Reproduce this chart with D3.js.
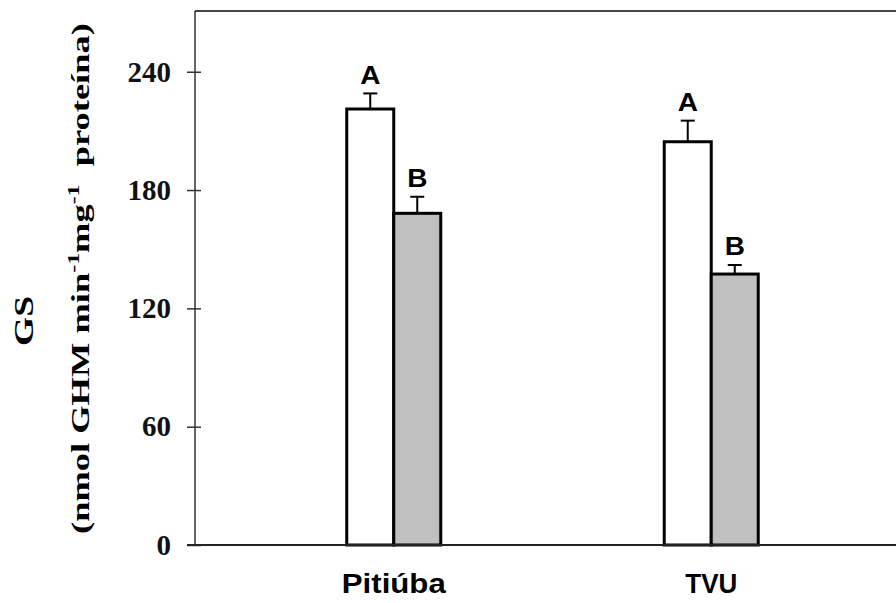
<!DOCTYPE html>
<html>
<head>
<meta charset="utf-8">
<script src="https://cdn.jsdelivr.net/npm/d3@7"></script>
<style>
  html, body { margin: 0; padding: 0; background: #fff; }
  svg { display: block; }
</style>
</head>
<body>
<div id="chart"></div>
<script>
// GS activity per cultivar: open bars vs grey bars, with SE and letters
const cultivars = ["Pitiúba", "TVU"];
const seriesKeys = ["open", "grey"];
const openMeans = [221.1, 204.5];
const openErrors = [7.9, 10.7];
const greyMeans = [168.2, 137.4];
const greyErrors = [8.4, 4.6];
const openLetters = ["A", "A"];
const greyLetters = ["B", "B"];
const yTicks = [0, 60, 120, 180, 240];
const yMax = 270.8;

const W = 896, H = 603;
const plot = { left: 195, right: 910, top: 11, bottom: 545 };

const svg = d3.select("#chart").append("svg")
  .attr("width", W).attr("height", H);

const y = d3.scaleLinear().domain([0, yMax]).range([plot.bottom, plot.top]);
const x = d3.scalePoint().domain(cultivars).range([plot.left, plot.right]).padding(0.626);
const xs = d3.scaleBand().domain(seriesKeys).range([-47, 47]);

const fills = { open: "#ffffff", grey: "#c0c0c0" };

const rows = [];
cultivars.forEach((c, i) => {
  rows.push({ cultivar: c, key: "open", mean: openMeans[i], err: openErrors[i], letter: openLetters[i] });
  rows.push({ cultivar: c, key: "grey", mean: greyMeans[i], err: greyErrors[i], letter: greyLetters[i] });
});

// stretch a text node along its own length to a given size
function fitLength(sel, target) {
  const len = sel.node().getComputedTextLength();
  return target / len;
}

// frame: top border
svg.append("line")
  .attr("x1", plot.left).attr("x2", plot.right)
  .attr("y1", plot.top).attr("y2", plot.top)
  .attr("stroke", "#444").attr("stroke-width", 2);

// error bars (drawn first so bar outline covers the stem base)
const eb = svg.append("g");
rows.forEach(d => {
  const cx = x(d.cultivar) + xs(d.key) + xs.bandwidth() / 2;
  eb.append("line")
    .attr("x1", cx).attr("x2", cx)
    .attr("y1", y(d.mean)).attr("y2", y(d.mean + d.err))
    .attr("stroke", "#000").attr("stroke-width", 2);
  eb.append("line")
    .attr("x1", cx - 7).attr("x2", cx + 7)
    .attr("y1", y(d.mean + d.err)).attr("y2", y(d.mean + d.err))
    .attr("stroke", "#000").attr("stroke-width", 2);
});

// bars
svg.append("g").selectAll("rect").data(rows).join("rect")
  .attr("x", d => x(d.cultivar) + xs(d.key))
  .attr("width", xs.bandwidth())
  .attr("y", d => y(d.mean))
  .attr("height", d => y(0) - y(d.mean))
  .attr("fill", d => fills[d.key])
  .attr("stroke", "#000").attr("stroke-width", 3);

// significance letters
svg.append("g").selectAll("text").data(rows).join("text")
  .attr("transform", d => `translate(${x(d.cultivar) + xs(d.key) + xs.bandwidth() / 2},${y(d.mean + d.err) - 9.5}) scale(1.12,1)`)
  .attr("text-anchor", "middle")
  .attr("font-family", "Liberation Sans, Arial, sans-serif")
  .attr("font-weight", "bold")
  .attr("font-size", 25)
  .attr("fill", "#000")
  .text(d => d.letter);

// y axis
const yAxis = svg.append("g")
  .attr("transform", `translate(${plot.left},0)`)
  .call(d3.axisLeft(y).tickValues(yTicks).tickSize(8).tickPadding(16).tickFormat(d3.format("d")));
yAxis.select(".domain").remove();
yAxis.selectAll(".tick line").attr("x1", -8).attr("x2", 6).attr("stroke", "#333").attr("stroke-width", 1.5);
yAxis.selectAll(".tick text")
  .attr("font-family", "Liberation Serif, Times New Roman, serif")
  .attr("font-weight", "bold")
  .attr("font-size", 29)
  .attr("fill", "#111");
yAxis.append("line")
  .attr("x1", 0).attr("x2", 0)
  .attr("y1", plot.top).attr("y2", plot.bottom)
  .attr("stroke", "#333").attr("stroke-width", 1.5);

// baseline
svg.append("line")
  .attr("x1", plot.left - 8).attr("x2", plot.right)
  .attr("y1", plot.bottom).attr("y2", plot.bottom)
  .attr("stroke", "#222").attr("stroke-width", 2);

// category labels
const labelWidths = { "Pitiúba": 104, "TVU": 52 };
svg.append("g").selectAll("text").data(cultivars).join("text")
  .attr("text-anchor", "middle")
  .attr("font-family", "Liberation Sans, Arial, sans-serif")
  .attr("font-weight", "bold")
  .attr("font-size", 28)
  .attr("fill", "#000")
  .text(d => d)
  .each(function (d) {
    const s = d3.select(this);
    const k = fitLength(s, labelWidths[d]);
    s.attr("transform", `translate(${x(d)},593) scale(${k},1)`);
  });

// y axis title, two lines
const t1 = svg.append("text")
  .attr("text-anchor", "middle")
  .attr("font-family", "Liberation Serif, Times New Roman, serif")
  .attr("font-weight", "bold")
  .attr("font-size", 27)
  .attr("fill", "#000")
  .text("GS");
t1.attr("transform", `translate(33,321) rotate(-90) scale(${fitLength(t1, 50)},1)`);

const t2 = svg.append("text")
  .attr("font-family", "Liberation Serif, Times New Roman, serif")
  .attr("font-weight", "bold")
  .attr("font-size", 26)
  .attr("fill", "#000")
  .style("white-space", "pre");
t2.append("tspan").text("(nmol GHM min");
t2.append("tspan").attr("dy", -10).attr("font-size", 17).text("-1");
t2.append("tspan").attr("dy", 10).text("mg");
t2.append("tspan").attr("dy", -10).attr("font-size", 17).text("-1");
t2.append("tspan").attr("dy", 10).text("  proteína)");
t2.attr("transform", `translate(89,534) rotate(-90) scale(${fitLength(t2, 511)},1)`);
</script>
</body>
</html>
